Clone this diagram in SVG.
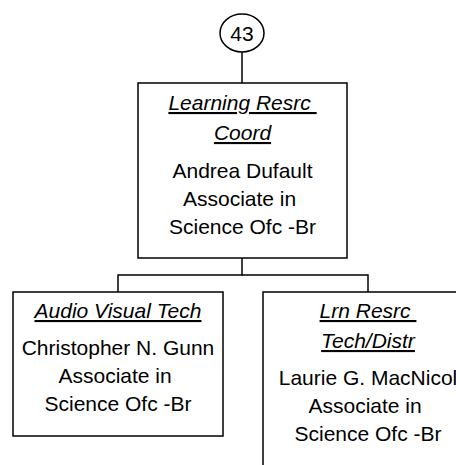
<svg xmlns="http://www.w3.org/2000/svg" width="456" height="465" viewBox="0 0 456 465">
<style>
.box{fill:#fff;stroke:#000;stroke-width:1.5}
.con{fill:none;stroke:#000;stroke-width:1.5}
text{font-family:"Liberation Sans",Arial,sans-serif;font-size:21px;fill:#000;text-anchor:middle}
.t{font-style:italic;text-decoration:underline}
</style>
<rect width="456" height="465" fill="#fff"/>
<g id="connectors">
<line class="con" x1="242" y1="52" x2="242" y2="83"/>
<polyline class="con" points="242,258 242,275 118,275 118,292"/>
<polyline class="con" points="242,275 368,275 368,292"/>
</g>
<g id="n43">
<ellipse class="box" cx="242" cy="33" rx="22" ry="19"/>
<text x="242" y="40.5">43</text>
</g>
<g id="coord">
<rect class="box" x="138" y="83" width="209" height="175"/>
<text class="t" x="242.5" y="110" xml:space="preserve">Learning Resrc </text>
<text class="t" x="242.5" y="140">Coord</text>
<text x="242.5" y="178">Andrea Dufault</text>
<text x="242.5" y="206" xml:space="preserve">Associate in </text>
<text x="242.5" y="234">Science Ofc -Br</text>
</g>
<g id="avtech">
<rect class="box" x="13" y="292" width="210" height="144"/>
<text class="t" x="118" y="318">Audio Visual Tech</text>
<text x="118" y="355">Christopher N. Gunn</text>
<text x="118" y="383" xml:space="preserve">Associate in </text>
<text x="118" y="411">Science Ofc -Br</text>
</g>
<g id="lrntech">
<rect class="box" x="263" y="292" width="210" height="190"/>
<text class="t" x="368" y="318" xml:space="preserve">Lrn Resrc </text>
<text class="t" x="368" y="348">Tech/Distr</text>
<text x="368" y="385">Laurie G. MacNicol</text>
<text x="368" y="413" xml:space="preserve">Associate in </text>
<text x="368" y="441">Science Ofc -Br</text>
</g>
</svg>
